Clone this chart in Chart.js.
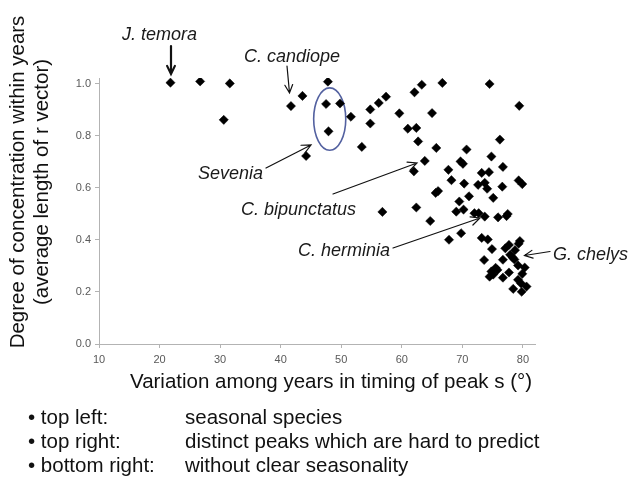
<!DOCTYPE html>
<html>
<head>
<meta charset="utf-8">
<script src="https://cdn.jsdelivr.net/npm/chart.js@4.4.1/dist/chart.umd.min.js"></script>
<style>
  html, body { margin: 0; padding: 0; background: #ffffff; }
  #wrap { position: relative; width: 644px; height: 478px; }
  canvas { display: block; }
</style>
</head>
<body>
<div id="wrap"><canvas id="c" width="644" height="478"></canvas></div>
<script>
// ---- data ----
const xValues = [
  21.8, 26.7, 31.6, 30.6, 41.7, 43.6, 44.2,
  47.8, 47.5, 49.8, 47.9, 51.6, 53.4, 54.8, 54.8, 56.2, 57.4, 59.6, 61.0, 62.4,
  62.7, 62.1, 63.3, 66.7, 65.0, 65.7, 63.8, 62.0, 74.5, 79.4, 76.2, 70.7, 74.8,
  69.7, 70.1, 67.7, 76.7, 73.2, 74.4, 68.2, 70.3, 72.6, 73.7, 74.1, 76.6, 79.3,
  79.9, 66.0, 65.6, 71.1, 75.1, 69.5, 62.4, 56.8, 69.0, 70.2, 72.0, 72.7, 73.7,
  75.9, 77.3, 77.5, 64.7,
  67.8, 69.8, 73.2, 74.2, 74.9, 73.6, 77.1, 77.7, 79.5, 79.3, 78.7, 77.9, 78.3,
  78.6, 76.7, 79.2, 80.3, 75.5, 75.8, 77.7, 74.8, 75.1, 74.5, 76.7, 79.9, 79.2,
  79.7, 78.4, 80.6, 79.8
];
const yValues = [
  1.005, 1.010, 1.002, 0.862, 0.915, 0.954, 0.723,
  1.009, 0.923, 0.925, 0.818, 0.874, 0.758, 0.902, 0.848, 0.927, 0.951, 0.887, 0.828, 0.831,
  0.779, 0.968, 0.997, 1.004, 0.888, 0.754, 0.704, 0.664, 1.000, 0.916, 0.786, 0.748, 0.721,
  0.702, 0.693, 0.670, 0.681, 0.658, 0.661, 0.630, 0.617, 0.612, 0.620, 0.597, 0.605, 0.629,
  0.615, 0.588, 0.581, 0.568, 0.562, 0.548, 0.525, 0.508, 0.509, 0.517, 0.503, 0.503, 0.490,
  0.487, 0.492, 0.500, 0.473,
  0.401, 0.426, 0.408, 0.402, 0.365, 0.323, 0.368, 0.381, 0.396, 0.386, 0.361, 0.343, 0.333,
  0.325, 0.324, 0.302, 0.294, 0.293, 0.285, 0.275, 0.279, 0.267, 0.259, 0.255, 0.270, 0.247,
  0.233, 0.212, 0.221, 0.201
];
const xTickLabels = [10, 20, 30, 40, 50, 60, 70, 80];
const yTickLabels = [0.0, 0.2, 0.4, 0.6, 0.8, 1.0];
const xTitle = 'Variation among years in timing of peak s (\u00B0)';
const yTitle = ['Degree of concentration within years', '(average length of r vector)'];
const notes = [
  ['\u2022 top left:', 'seasonal species'],
  ['\u2022 top right:', 'distinct peaks which are hard to predict'],
  ['\u2022 bottom right:', 'without clear seasonality']
];
// Sevenia group outline (centre and radii, data units)
const ellipseCenter = [48.1, 0.865];
const ellipseRadii = [2.65, 0.12];

const points = xValues.map((x, i) => ({ x: x, y: yValues[i] }));

const ITAL = 'italic 18px "Liberation Sans", Arial, sans-serif';
const REG = '20.5px "Liberation Sans", Arial, sans-serif';

function arrow(ctx, x1, y1, x2, y2, lw, head) {
  ctx.save();
  ctx.strokeStyle = '#111';
  ctx.lineWidth = lw;
  ctx.lineCap = 'round';
  ctx.beginPath();
  ctx.moveTo(x1, y1); ctx.lineTo(x2, y2);
  const a = Math.atan2(y2 - y1, x2 - x1);
  const s = 0.45;
  ctx.moveTo(x2 - head * Math.cos(a - s), y2 - head * Math.sin(a - s));
  ctx.lineTo(x2, y2);
  ctx.lineTo(x2 - head * Math.cos(a + s), y2 - head * Math.sin(a + s));
  ctx.stroke();
  ctx.restore();
}

const decor = {
  id: 'decor',
  beforeDatasetsDraw(chart) {
    const ctx = chart.ctx;
    const xs = chart.scales.x, ys = chart.scales.y;
    const cx = xs.getPixelForValue(ellipseCenter[0]);
    const cy = ys.getPixelForValue(ellipseCenter[1]);
    const rx = Math.abs(xs.getPixelForValue(ellipseCenter[0] + ellipseRadii[0]) - cx);
    const ry = Math.abs(ys.getPixelForValue(ellipseCenter[1] + ellipseRadii[1]) - cy);
    ctx.save();
    ctx.strokeStyle = '#5361a0';
    ctx.lineWidth = 1.6;
    ctx.beginPath();
    ctx.ellipse(cx, cy, rx, ry, 0, 0, Math.PI * 2);
    ctx.stroke();
    ctx.restore();
  },
  afterDraw(chart) {
    const ctx = chart.ctx;
    ctx.save();
    ctx.fillStyle = '#1a1a1a';
    ctx.font = ITAL;
    ctx.textBaseline = 'middle';
    ctx.textAlign = 'left';
    ctx.fillText('J. temora', 122, 35);
    ctx.fillText('C. candiope', 244, 57);
    ctx.fillText('Sevenia', 198, 174);
    ctx.fillText('C. bipunctatus', 241, 210);
    ctx.fillText('C. herminia', 298, 251);
    ctx.fillText('G. chelys', 553, 255);
    arrow(ctx, 171, 46, 171, 74, 2.2, 9);
    arrow(ctx, 287, 66, 289.5, 93, 1.2, 9);
    arrow(ctx, 266, 168, 311, 145, 1.2, 10);
    arrow(ctx, 333, 194, 417, 163, 1.2, 10);
    arrow(ctx, 393, 248, 480, 218, 1.2, 10);
    arrow(ctx, 550, 251.5, 524.5, 255.5, 1.2, 9);
    ctx.fillStyle = '#111';
    ctx.font = REG;
    ctx.textAlign = 'center';
    ctx.fillText(xTitle, 331, 382);
    ctx.save();
    ctx.translate(18, 182);
    ctx.rotate(-Math.PI / 2);
    ctx.fillText(yTitle[0], 0, 0);
    ctx.restore();
    ctx.save();
    ctx.translate(42, 182);
    ctx.rotate(-Math.PI / 2);
    ctx.fillText(yTitle[1], 0, 0);
    ctx.restore();
    ctx.textAlign = 'left';
    notes.forEach((n, i) => {
      const y = 418 + i * 24;
      ctx.fillText(n[0], 28, y);
      ctx.fillText(n[1], 185, y);
    });
    ctx.restore();
  }
};

new Chart(document.getElementById('c'), {
  type: 'scatter',
  data: {
    datasets: [{
      data: points,
      pointStyle: 'rectRot',
      pointRadius: 4.6,
      pointHoverRadius: 4.6,
      backgroundColor: '#000',
      borderColor: '#000',
      borderWidth: 0.5
    }]
  },
  options: {
    responsive: false,
    animation: false,
    events: [],
    layout: { padding: { left: 59, top: 78, right: 109, bottom: 104 } },
    plugins: { legend: { display: false }, tooltip: { enabled: false } },
    scales: {
      x: {
        type: 'linear',
        min: 10,
        max: 82,
        afterFit(s) { s.height = 30; },
        afterBuildTicks(s) { s.ticks = xTickLabels.map(v => ({ value: v })); },
        border: { color: '#b3b3b3', width: 1 },
        grid: { drawOnChartArea: false, drawTicks: true, tickLength: 4, color: '#b3b3b3' },
        ticks: {
          padding: 5,
          color: '#595959',
          autoSkip: false,
          font: { family: '"Liberation Sans", Arial, sans-serif', size: 11 },
          maxRotation: 0,
          callback: v => String(v)
        }
      },
      y: {
        type: 'linear',
        min: 0,
        max: 1.023,
        afterFit(s) { s.width = 40; },
        afterBuildTicks(s) { s.ticks = yTickLabels.map(v => ({ value: v })); },
        border: { color: '#b3b3b3', width: 1 },
        grid: { drawOnChartArea: false, drawTicks: true, tickLength: 4, color: '#b3b3b3' },
        ticks: {
          padding: 4,
          color: '#595959',
          autoSkip: false,
          font: { family: '"Liberation Sans", Arial, sans-serif', size: 11 },
          callback: v => Number(v).toFixed(1)
        }
      }
    }
  },
  plugins: [decor]
});
</script>
</body>
</html>
